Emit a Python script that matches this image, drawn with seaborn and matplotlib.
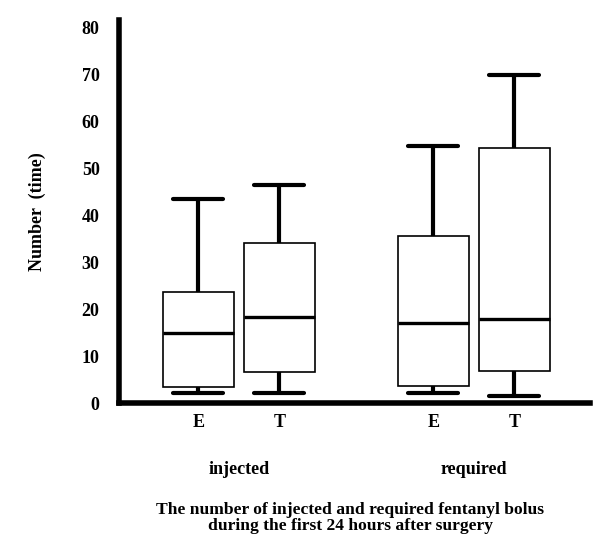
import numpy as np
import pandas as pd
import matplotlib
matplotlib.use("Agg")
import matplotlib.pyplot as plt
import seaborn as sns

# ---- data (five-number summaries) ----
groups = ["injected", "injected", "required", "required"]
arms = ["E", "T", "E", "T"]
whisker_low = [2.1, 2.2, 2.1, 1.4]
q1 = [3.5, 6.6, 3.6, 6.8]
median = [14.8, 18.4, 17.1, 17.8]
q3 = [23.7, 34.0, 35.5, 54.2]
whisker_high = [43.5, 46.3, 54.6, 69.8]

group_order = ["injected", "required"]
arm_order = ["E", "T"]
y_ticks = [0, 10, 20, 30, 40, 50, 60, 70, 80]
y_label = "Number  (time)"
title_lines = ["The number of injected and required fentanyl bolus",
               "during the first 24 hours after surgery"]

rows = []
for g, a, lo, a1, m, a3, hi in zip(groups, arms, whisker_low, q1, median, q3, whisker_high):
    for v in (lo, a1, m, a3, hi):
        rows.append({"group": g, "arm": a, "value": v})
df = pd.DataFrame(rows)

sns.set_theme(style="white")
plt.rcParams["font.family"] = ["Liberation Serif", "DejaVu Serif"]
plt.rcParams["font.weight"] = "bold"
plt.rcParams["text.color"] = "black"
plt.rcParams["axes.labelcolor"] = "black"
plt.rcParams["xtick.color"] = "black"
plt.rcParams["ytick.color"] = "black"

FS = 13

fig = plt.figure(figsize=(6.11, 5.34), dpi=100)
ax = fig.add_axes([0.1948, 0.2453, 0.7708, 0.7172])

sns.boxplot(
    data=df, x="group", y="value", hue="arm",
    order=group_order, hue_order=arm_order,
    whis=(0, 100), width=0.69, gap=0.12,
    palette=["white", "white"], linecolor="black",
    showfliers=False, legend=False, ax=ax,
    boxprops=dict(linewidth=1.2, edgecolor="black", facecolor="white"),
    whiskerprops=dict(linewidth=3.0, color="black"),
    capprops=dict(linewidth=3.0, color="black"),
    medianprops=dict(linewidth=2.4, color="black"),
)

# widen caps to match the reference
for line in ax.lines:
    xd = np.asarray(line.get_xdata(), dtype=float)
    yd = np.asarray(line.get_ydata(), dtype=float)
    if len(xd) == 2 and yd[0] == yd[1] and line.get_linewidth() == 3.0:
        c = xd.mean()
        line.set_xdata(c + (xd - c) * 1.4)

ax.set_ylim(0, 81.5)
ax.set_xlim(-0.51, 1.494)

ax.set_yticks(y_ticks)
ax.set_yticklabels([str(t) for t in y_ticks], fontsize=FS, fontweight="bold")
ax.tick_params(axis="y", length=0, pad=14)

# minor ticks at each box centre for E/T labels
centers = []
for p in ax.patches:
    ext = p.get_path().get_extents()
    centers.append((ext.x0 + ext.x1) / 2)
centers = sorted(centers)
ax.set_xticks(centers, minor=True)
ax.set_xticklabels([a for a in arms], minor=True, fontsize=FS, fontweight="bold")
ax.set_xticks(range(len(group_order)))
ax.set_xticklabels(group_order, fontsize=FS, fontweight="bold")
ax.tick_params(axis="x", which="minor", length=0, pad=8)
ax.tick_params(axis="x", which="major", length=0, pad=42)

ax.set_xlabel("")
ax.set_ylabel(y_label, fontsize=FS, fontweight="bold", labelpad=26)

for s in ["top", "right"]:
    ax.spines[s].set_visible(False)
for s in ["left", "bottom"]:
    ax.spines[s].set_linewidth(4)
    ax.spines[s].set_color("black")
    ax.spines[s].set_capstyle("projecting")

fig.text(0.573, 1 - 514 / 534, title_lines[0], ha="center", va="baseline",
         fontsize=12.6, fontweight="bold")
fig.text(0.573, 1 - 530 / 534, title_lines[1], ha="center", va="baseline",
         fontsize=12.6, fontweight="bold")

fig.savefig("out.png", dpi=100, facecolor="white")
